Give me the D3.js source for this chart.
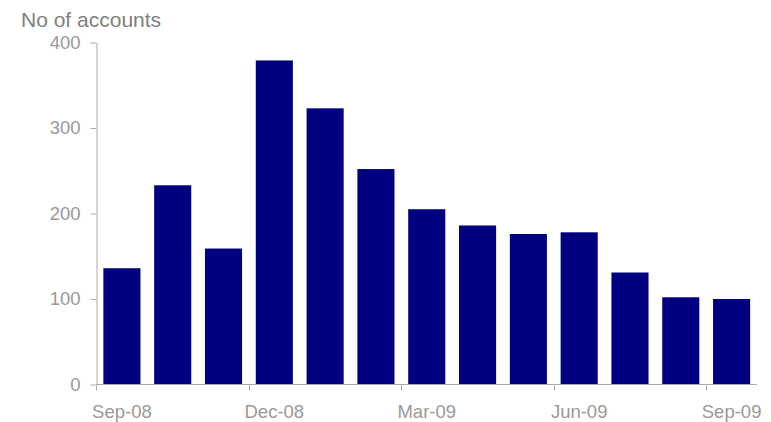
<!DOCTYPE html>
<html><head><meta charset="utf-8">
<script src="https://cdn.jsdelivr.net/npm/d3@7"></script>
<style>body{margin:0;background:#fff}svg{display:block}</style>
</head><body>
<svg id="c" width="771" height="422"></svg>
<script>
const categories = ["Sep-08","Oct-08","Nov-08","Dec-08","Jan-09","Feb-09","Mar-09","Apr-09","May-09","Jun-09","Jul-09","Aug-09","Sep-09"];
const values = [136, 233, 159, 379, 323, 252, 205, 186, 176, 178, 131, 102, 100];
const yTicks = [0, 100, 200, 300, 400];
const xTickLabels = ["Sep-08","Dec-08","Mar-09","Jun-09","Sep-09"];
const yTitle = "No of accounts";

(function(){
const svg = d3.select("#c");
const mLeft = 96.5, mRight = 757, mTop = 42.5, mBottom = 384.5;
const font = "Liberation Sans, Arial, sans-serif";
const axisColor = "#aaaaaa", textColor = "#999999";
const tickFont = 18.5;

const x = d3.scaleBand().domain(categories).range([mLeft, mRight]).paddingInner(0.27).paddingOuter(0.135);
const y = d3.scaleLinear().domain([0, 400]).range([mBottom, mTop]);

svg.selectAll("rect.bar").data(values).enter().append("rect")
  .attr("class","bar")
  .attr("x",(d,i)=>x(categories[i]))
  .attr("width",x.bandwidth())
  .attr("y",d=>y(d))
  .attr("height",d=>y(0)-y(d))
  .attr("fill","#000080");

const yAxis = svg.append("g").attr("transform",`translate(${mLeft},0)`)
  .call(d3.axisLeft(y).tickValues(yTicks).tickSize(6).tickPadding(10).tickSizeOuter(0));
yAxis.attr("font-size",tickFont).attr("font-family",font);
const step = x.step();
const xAxisG = svg.append("g").attr("transform",`translate(0,${mBottom})`);
xAxisG.append("line").attr("x1",mLeft).attr("x2",mRight).attr("y1",0).attr("y2",0).attr("stroke",axisColor);
xTickLabels.forEach(lbl=>{
  const bandStart = x(lbl) - x.paddingOuter()*step + (x.bandwidth()-x.bandwidth()); // slot start
  const slotLeft = x(lbl) - step*x.paddingInner()/2;
  const px = Math.round(slotLeft)+0.5;
  const cx = x(lbl) + x.bandwidth()/2;
  xAxisG.append("line").attr("x1",px).attr("x2",px).attr("y1",0).attr("y2",6).attr("stroke",axisColor);
  xAxisG.append("text").attr("x",cx).attr("y",33).attr("text-anchor","middle")
    .attr("font-family",font).attr("font-size",tickFont).attr("fill",textColor).text(lbl);
});
yAxis.select(".domain").attr("stroke",axisColor);
yAxis.selectAll(".tick line").attr("stroke",axisColor);
yAxis.selectAll(".tick text").attr("fill",textColor);

svg.append("text").attr("x",21).attr("y",27).attr("font-family",font).attr("font-size",21)
  .attr("fill","#808080").text(yTitle);
})();
</script>
</body></html>
